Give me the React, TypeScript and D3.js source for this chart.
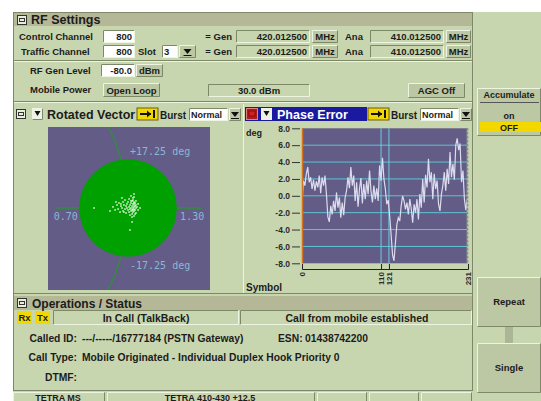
import React, { useEffect, useRef } from 'react';
import * as d3 from 'd3';

// Phase error trace (deg), one reading every 2 symbols, symbols 0..230
const phaseError = [
  -0.9, 1.8, 1.2, 2.6, 3.4, 1.6, 2.2, 0.8, 1.9, 0.6, 1.7, 1.0, 2.4, 0.3, 2.2, 1.2,
  2.4, 0.2, -2.5, -3.1, -1.2, -2.2, -0.6, -1.8, 0.4, -1.4, -0.2, -2.6, -0.8, -2.3, -0.2, 0.6,
  2.2, 0.9, 3.4, 1.2, 2.4, -0.6, 1.6, -1.3, 0.8, 2.1, -0.9, 1.4, -0.4, 1.8, 0.2, 3.0,
  0.6, -0.8, 1.2, -0.4, 0.9, -0.6, 3.6, 1.8, 4.5, 2.0, 0.8, -1.0, -0.5, -2.4, -4.6, -7.0,
  -7.7, -5.6, -3.4, -2.6, -3.0, -1.2, 0.0, -0.6, -1.6, -0.8, -2.2, -0.4, -1.5, -3.2, -1.0, -2.0,
  -0.4, -2.8, 0.2, -1.4, 2.0, -0.8, 2.5, 1.0, 4.4, 1.6, 2.8, -0.4, 2.6, 0.8, 1.8, -1.0,
  -1.8, 0.2, 1.2, 2.8, 0.6, 3.2, 1.4, 5.2, 2.2, 3.8, 1.9, 6.0, 6.8, 5.4, 6.2, 1.6,
  3.0, -0.4, -1.7, -0.4,
];
const symbolStep = 2;
const symbolDomain = [0, 231];
const phaseDomain = [-8, 8];
const phaseTicks = [8, 6, 4, 2, 0, -2, -4, -6, -8];
const symbolTicks = [0, 110, 121, 231];
const symbolMarkers = [110, 121];

// Rotated vector samples (I = magnitude axis, Q = quadrature)
const vecI = [
  0.808, 0.915, 0.927, 0.938, 0.944, 0.949, 0.955, 0.960, 0.966, 0.972, 0.972, 0.977, 0.983, 0.983,
  0.989, 0.989, 0.994, 0.994, 1.000, 1.000, 1.006, 1.006, 1.006, 1.011, 1.011, 1.011, 1.017, 1.017,
  1.017, 1.017, 1.023, 1.023, 1.023, 1.023, 1.028, 1.028, 1.028, 1.028, 1.034, 1.034, 1.034, 1.034,
  1.034, 1.034, 1.040, 1.040, 1.040, 1.045, 1.045, 1.045, 1.051, 1.057, 1.057, 1.068, 1.011, 1.023,
  0.966, 1.034, 0.932, 0.898, 1.028, 1.034, 1.040, 1.023, 1.028, 1.034, 1.017, 1.045, 0.977, 0.960,
];
const vecQ = [
  0.000, 0.006, -0.011, 0.017, -0.006, 0.028, -0.023, 0.011, 0.000, 0.034, -0.017, 0.017, -0.006, 0.045,
  0.011, -0.028, 0.000, 0.023, -0.011, 0.034, 0.006, -0.023, 0.051, 0.017, -0.006, -0.040, 0.028, 0.000,
  -0.017, 0.068, 0.011, -0.011, 0.040, -0.034, 0.000, 0.023, -0.023, 0.057, 0.006, -0.006, 0.017, -0.017,
  0.034, -0.045, 0.011, -0.011, 0.028, 0.000, 0.017, -0.028, 0.006, -0.011, 0.023, 0.000, -0.124, -0.079,
  0.057, 0.079, 0.034, -0.017, 0.045, 0.028, -0.034, -0.051, -0.011, 0.062, 0.040, 0.040, -0.023, 0.023,
];
const magDomain = [0.7, 1.3];
const magLabels = ['0.70', '1.30'];
const phaseLimitLabels = ['+17.25 deg', '-17.25 deg'];
const limitRadius = 0.275;

const FONT = '"Liberation Sans", Arial, sans-serif';
const PANEL = '#c8d6b0';
const TITLE = '#b4b896';
const BTN = '#bcc7a4';
const LIGHT = '#eef4e2';
const DARK = '#7c8868';
const INK = '#1c1c1c';
const YELLOW = '#f2d800';

const Bevel = ({ x, y, w, h, fill = PANEL, sunken = false }: any) => {
  const lt = sunken ? DARK : LIGHT;
  const rb = sunken ? LIGHT : DARK;
  return (
    <g>
      <rect x={x} y={y} width={w} height={h} fill={fill} />
      <path d={`M${x + 0.5},${y + h - 0.5}V${y + 0.5}H${x + w - 0.5}`} stroke={lt} fill="none" />
      <path d={`M${x + 0.5},${y + h - 0.5}H${x + w - 0.5}V${y + 0.5}`} stroke={rb} fill="none" />
    </g>
  );
};

const T = ({ x, y, children, size = 9.5, anchor = 'start', fill = INK }: any) => (
  <text x={x} y={y} fontSize={size} textAnchor={anchor} fill={fill} fontFamily={FONT} fontWeight="bold">
    {children}
  </text>
);

const DropBtn = ({ x, y, w = 12, h = 13 }: any) => (
  <g>
    <Bevel x={x} y={y} w={w} h={h} fill={BTN} />
    <path d={`M${x + w / 2 - 4},${y + 4}h8l-4,5z`} fill="#111" />
    <line x1={x + w / 2 - 4} x2={x + w / 2 + 4} y1={y + h - 2.5} y2={y + h - 2.5} stroke="#111" />
  </g>
);

const GoIcon = ({ x, y }: any) => (
  <g>
    <rect x={x} y={y} width={21} height={12} fill={YELLOW} stroke="#6a5a10" />
    <path d={`M${x + 3},${y + 6}h11`} stroke="#111" strokeWidth={2} />
    <path d={`M${x + 10},${y + 2.5}l4,3.5l-4,3.5z`} fill="#111" />
    <line x1={x + 17} x2={x + 17} y1={y + 2} y2={y + 10} stroke="#111" strokeWidth={2} />
  </g>
);

const PanelIcon = ({ x, y }: any) => (
  <g>
    <rect x={x + 0.5} y={y + 0.5} width={9} height={9} fill="#e8eedc" stroke="#333" />
    <rect x={x + 2.5} y={y + 3.5} width={5} height={3} fill="none" stroke="#333" />
  </g>
);

const FreqRow = ({ y }: any) => (
  <g>
    <T x={232} y={y + 10} anchor="end">= Gen</T>
    <Bevel x={236} y={y} w={74} h={13} sunken />
    <T x={307} y={y + 10} anchor="end">420.012500</T>
    <Bevel x={312} y={y} w={26} h={13} fill={BTN} />
    <T x={325} y={y + 10} anchor="middle">MHz</T>
    <T x={345} y={y + 10}>Ana</T>
    <Bevel x={370} y={y} w={74} h={13} sunken />
    <T x={441} y={y + 10} anchor="end">410.012500</T>
    <Bevel x={446} y={y} w={25} h={13} fill={BTN} />
    <T x={458.5} y={y + 10} anchor="middle">MHz</T>
  </g>
);

export default function App() {
  const vectorRef = useRef<SVGGElement>(null);
  const phaseRef = useRef<SVGGElement>(null);

  useEffect(() => {
    renderVector();
    renderPhase();
  }, []);

  const renderVector = () => {
    if (!vectorRef.current) return;
    const g = d3.select(vectorRef.current);
    g.selectAll('*').remove();

    const left = 48, top = 127, w = 162, h = 163;
    const x = d3.scaleLinear().domain(magDomain).range([74.9, 181.1]);
    const y = d3.scaleLinear().domain([-0.3, 0.3]).range([261.1, 154.9]);
    const unit = x(1) - x(0);

    g.append('clipPath').attr('id', 'vclip')
      .append('rect').attr('x', left).attr('y', top).attr('width', w).attr('height', h);

    g.append('rect').attr('x', left).attr('y', top).attr('width', w).attr('height', h)
      .attr('fill', '#625c86');

    const inner = g.append('g').attr('clip-path', 'url(#vclip)');

    // unit-magnitude arc
    inner.append('circle').attr('cx', x(0)).attr('cy', y(0)).attr('r', unit)
      .attr('fill', 'none').attr('stroke', '#2f8f3a').attr('stroke-width', 1.3);

    inner.append('line')
      .attr('x1', x(0.59)).attr('x2', x(1.42)).attr('y1', y(0)).attr('y2', y(0))
      .attr('stroke', '#2f8f3a').attr('stroke-width', 1.3);

    inner.append('circle').attr('cx', x(1)).attr('cy', y(0))
      .attr('r', x(1 + limitRadius) - x(1)).attr('fill', '#00a000');

    inner.selectAll('rect.pt')
      .data(vecI.map((v, i) => [v, vecQ[i]]))
      .join('rect')
      .attr('class', 'pt')
      .attr('x', d => x(d[0]) - 0.75)
      .attr('y', d => y(d[1]) - 0.75)
      .attr('width', 1.5)
      .attr('height', 1.5)
      .attr('fill', '#eefbe8');

    const addText = (tx: number, ty: number, s: string, anchor: string) => {
      g.append('text').attr('x', tx).attr('y', ty).attr('text-anchor', anchor)
        .attr('font-family', '"DejaVu Sans Mono", monospace').attr('font-size', '10px')
        .attr('fill', '#8cb6d6').text(s);
    };
    addText(x(magDomain[0]) + 3, y(0) + 12, magLabels[0], 'end');
    addText(x(magDomain[1]) - 1, y(0) + 12, magLabels[1], 'start');
    addText(x(1) + 2, 155, phaseLimitLabels[0], 'start');
    addText(x(1) + 2, 269, phaseLimitLabels[1], 'start');
  };

  const renderPhase = () => {
    if (!phaseRef.current) return;
    const g = d3.select(phaseRef.current);
    g.selectAll('*').remove();

    const x = d3.scaleLinear().domain(symbolDomain).range([302, 468]);
    const y = d3.scaleLinear().domain(phaseDomain).range([263.3, 128.3]);

    g.append('clipPath').attr('id', 'pclip')
      .append('rect').attr('x', x(0)).attr('y', y(8)).attr('width', x(231) - x(0)).attr('height', y(-8) - y(8));

    g.append('rect').attr('x', x(0)).attr('y', y(8))
      .attr('width', x(231) - x(0)).attr('height', y(-8) - y(8))
      .attr('fill', '#625c86');

    g.selectAll('line.grid')
      .data(phaseTicks.filter(t => Math.abs(t) < 8))
      .join('line')
      .attr('class', 'grid')
      .attr('x1', x(0)).attr('x2', x(231))
      .attr('y1', d => y(d)).attr('y2', d => y(d))
      .attr('stroke', '#5cc6d6').attr('stroke-width', 1);

    g.selectAll('line.mark')
      .data(symbolMarkers)
      .join('line')
      .attr('class', 'mark')
      .attr('x1', d => x(d)).attr('x2', d => x(d))
      .attr('y1', y(8)).attr('y2', y(-8))
      .attr('stroke', '#6ccce4').attr('stroke-width', 1);

    const line = d3.line<number>()
      .x((_, i) => x(i * symbolStep))
      .y(d => y(d));

    g.append('path')
      .datum(phaseError)
      .attr('clip-path', 'url(#pclip)')
      .attr('fill', 'none')
      .attr('stroke', '#dcdcee')
      .attr('stroke-width', 1.2)
      .attr('d', line);

    // plot edges
    g.append('line').attr('x1', x(0) + 0.5).attr('x2', x(0) + 0.5).attr('y1', y(8)).attr('y2', y(-8))
      .attr('stroke', '#d8701c').attr('stroke-width', 1.5);
    g.append('line').attr('x1', x(231) - 0.5).attr('x2', x(231) - 0.5).attr('y1', y(8)).attr('y2', y(-8))
      .attr('stroke', '#7cc8e0').attr('stroke-width', 1.5);
    g.append('line').attr('x1', x(231) - 0.5).attr('x2', x(231) - 0.5).attr('y1', y(8)).attr('y2', y(-8))
      .attr('stroke', '#d8701c').attr('stroke-width', 1.5).attr('stroke-dasharray', '2,2');

    const yAxis = g.append('g')
      .attr('transform', 'translate(300,0)')
      .call(d3.axisLeft(y).tickValues(phaseTicks).tickSize(8).tickPadding(2)
        .tickFormat(d => (+d).toFixed(1)));
    yAxis.select('.domain').remove();
    yAxis.selectAll('line').attr('stroke', '#333');
    yAxis.selectAll('text')
      .attr('fill', '#2a2a2a').attr('font-family', FONT).attr('font-size', '8.5px').attr('font-weight', 'bold');

    const xAxis = g.append('g')
      .attr('transform', 'translate(0,269)')
      .call(d3.axisBottom(x).tickValues(symbolTicks).tickSizeInner(-5).tickSizeOuter(-5)
        .tickFormat(d => String(d)));
    xAxis.selectAll('line').attr('stroke', '#222');
    xAxis.select('.domain').attr('stroke', '#222');
    xAxis.selectAll('text')
      .attr('transform', 'rotate(-90)')
      .attr('text-anchor', 'end')
      .attr('x', -3).attr('y', 0).attr('dy', '0.35em')
      .attr('fill', '#2a2a2a').attr('font-family', FONT).attr('font-size', '8px').attr('font-weight', 'bold');
  };

  return (
    <svg width={541} height={401} style={{ position: 'absolute', left: 0, top: 0, background: '#fff' }}>
      {/* main frame */}
      <rect x={13} y={12} width={528} height={389} fill={PANEL} />
      <rect x={13.5} y={12.5} width={459} height={378} fill="none" stroke={DARK} />

      {/* RF Settings */}
      <rect x={14} y={13} width={458} height={13} fill={TITLE} />
      <PanelIcon x={17} y={15} />
      <T x={31} y={24} size={12.5}>RF Settings</T>

      <T x={19} y={40}>Control Channel</T>
      <Bevel x={103} y={30} w={32} h={13} fill="#fff" sunken />
      <T x={132} y={40} anchor="end">800</T>
      <FreqRow y={30} />

      <T x={21} y={55}>Traffic Channel</T>
      <Bevel x={103} y={45} w={32} h={13} fill="#fff" sunken />
      <T x={132} y={55} anchor="end">800</T>
      <T x={138} y={55}>Slot</T>
      <Bevel x={162} y={45} w={16} h={13} fill="#fff" sunken />
      <T x={164} y={55}>3</T>
      <DropBtn x={179} y={45} w={17} h={13} />
      <FreqRow y={45} />

      <line x1={14} x2={472} y1={60.5} y2={60.5} stroke={DARK} />
      <line x1={14} x2={472} y1={61.5} y2={61.5} stroke={LIGHT} />

      <T x={30} y={74}>RF Gen Level</T>
      <Bevel x={101} y={64} w={34} h={13} fill="#fff" sunken />
      <T x={132} y={74} anchor="end">-80.0</T>
      <Bevel x={136} y={64} w={27} h={13} fill={BTN} />
      <T x={149.5} y={74} anchor="middle">dBm</T>

      <T x={30} y={93}>Mobile Power</T>
      <Bevel x={103} y={83} w={57} h={14} fill={BTN} />
      <T x={131.5} y={93.5} anchor="middle">Open Loop</T>
      <Bevel x={208} y={84} w={102} h={13} sunken />
      <T x={259} y={94} anchor="middle">30.0 dBm</T>
      <Bevel x={408} y={83} w={57} h={15} fill={BTN} />
      <T x={436.5} y={94} anchor="middle">AGC Off</T>

      <line x1={14} x2={472} y1={101.5} y2={101.5} stroke={DARK} />
      <line x1={14} x2={472} y1={102.5} y2={102.5} stroke={LIGHT} />

      {/* Rotated Vector header */}
      <PanelIcon x={16} y={109} />
      <Bevel x={32} y={108} w={11} h={12} fill="#eef2e6" />
      <path d="M34.5,111h6l-3,5z" fill="#111" />
      <T x={47} y={119} size={12.5}>Rotated Vector</T>
      <GoIcon x={137} y={108} />
      <T x={160} y={119} size={10}>Burst</T>
      <Bevel x={189} y={108} w={39} h={13} fill="#fff" sunken />
      <T x={191} y={118} size={9}>Normal</T>
      <DropBtn x={229} y={108} w={12} h={13} />
      <g ref={vectorRef} />

      {/* Phase Error header */}
      <line x1={243.5} x2={243.5} y1={104} y2={293} stroke={LIGHT} />
      <rect x={245} y={107} width={122} height={14} fill="#1a1aa0" />
      <rect x={246.5} y={108.5} width={11} height={11} fill="#b01a1a" stroke="#e08080" />
      <rect x={249} y={111} width={6} height={5} fill="#d02020" stroke="#600" strokeWidth={0.6} />
      <rect x={261} y={108} width={11} height={12} fill="#eef2e6" />
      <path d="M263.5,111h6l-3,5z" fill="#111" />
      <T x={277} y={119} size={12.5} fill="#fff">Phase Error</T>
      <GoIcon x={368} y={108} />
      <T x={391} y={119} size={10}>Burst</T>
      <Bevel x={420} y={108} w={39} h={13} fill="#fff" sunken />
      <T x={422} y={118} size={9}>Normal</T>
      <DropBtn x={460} y={108} w={12} h={13} />
      <T x={246} y={136} size={9}>deg</T>
      <T x={246} y={291} size={10}>Symbol</T>
      <g ref={phaseRef} />

      {/* Operations / Status */}
      <line x1={14} x2={472} y1={293.5} y2={293.5} stroke={DARK} />
      <rect x={14} y={296} width={458} height={14} fill={TITLE} />
      <PanelIcon x={17} y={298} />
      <T x={32} y={308} size={12}>Operations / Status</T>

      <rect x={17} y={311} width={15} height={13} fill={YELLOW} />
      <T x={24.5} y={321} anchor="middle">Rx</T>
      <rect x={35} y={311} width={15} height={13} fill={YELLOW} />
      <T x={42.5} y={321} anchor="middle">Tx</T>
      <Bevel x={53} y={310} w={186} h={15} sunken />
      <T x={146} y={321.5} anchor="middle" size={10.5}>In Call (TalkBack)</T>
      <Bevel x={240} y={310} w={232} h={15} sunken />
      <T x={357} y={321.5} anchor="middle" size={10.5}>Call from mobile established</T>

      <T x={77} y={342} anchor="end" size={10.3}>Called ID:</T>
      <T x={82} y={342} size={10.3}>---/-----/16777184 (PSTN Gateway)</T>
      <T x={278} y={342} size={10.3}>ESN:</T>
      <T x={305} y={342} size={10.3}>01438742200</T>
      <T x={77} y={361} anchor="end" size={10.3}>Call Type:</T>
      <T x={82} y={361} size={10.3}>Mobile Originated - Individual Duplex Hook Priority 0</T>
      <T x={77} y={381} anchor="end" size={10.3}>DTMF:</T>

      {/* bottom tabs */}
      <Bevel x={13} y={392} w={92} h={12} fill={PANEL} />
      <T x={58} y={400.5} anchor="middle" size={9}>TETRA MS</T>
      <Bevel x={107} y={392} w={208} h={12} fill={PANEL} />
      <T x={210} y={400.5} anchor="middle" size={9}>TETRA 410-430 +12.5</T>
      <Bevel x={317} y={392} w={50} h={12} fill={PANEL} />
      <Bevel x={369} y={392} w={50} h={12} fill={PANEL} />
      <Bevel x={421} y={392} w={51} h={12} fill={PANEL} />

      {/* soft keys */}
      <Bevel x={477} y={88} w={64} h={48} fill={BTN} />
      <T x={509} y={98} anchor="middle" size={9}>Accumulate</T>
      <line x1={480} x2={539} y1={102.5} y2={102.5} stroke="#555" />
      <T x={509} y={119} anchor="middle" size={9}>on</T>
      <rect x={480} y={122} width={61} height={10} fill={YELLOW} />
      <T x={509} y={130.5} anchor="middle" size={9}>OFF</T>

      <Bevel x={477} y={277} w={64} h={50} fill={BTN} />
      <T x={509} y={305} anchor="middle" size={9.5}>Repeat</T>
      <rect x={505} y={327} width={8} height={16} fill="#aab696" />
      <Bevel x={477} y={343} w={64} h={50} fill={BTN} />
      <T x={509} y={371} anchor="middle" size={9.5}>Single</T>
    </svg>
  );
}
